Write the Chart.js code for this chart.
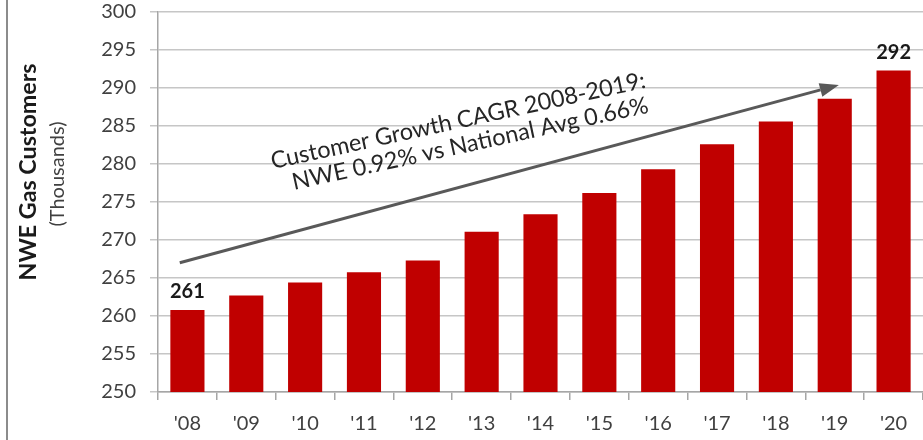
<!DOCTYPE html>
<html>
<head>
<meta charset="utf-8">
<script src="https://cdn.jsdelivr.net/npm/chart.js@4.4.1/dist/chart.umd.min.js"></script>
<style>
  html, body { margin: 0; padding: 0; background: #fff; overflow: hidden; }
  #wrap { position: relative; width: 923px; height: 440px; }
</style>
</head>
<body>
<div id="wrap"><canvas id="gasChart" width="923" height="440"></canvas></div>
<script>
// categories / values (thousands of customers)
const YEARS = ["'08", "'09", "'10", "'11", "'12", "'13", "'14", "'15", "'16", "'17", "'18", "'19", "'20"];
const CUSTOMERS = [260.8, 262.7, 264.4, 265.75, 267.3, 271.1, 273.4, 276.2, 279.3, 282.6, 285.6, 288.6, 292.3];
const LABELLED_BARS = [0, 12];

const Y_MIN = 250;
const Y_MAX = 300;
const Y_STEP = 5;

const AXIS_TITLE = 'NWE Gas Customers';
const AXIS_SUBTITLE = '(Thousands)';
const NOTE_LINES = ['Customer Growth CAGR 2008-2019:', 'NWE 0.92% vs National Avg 0.66%'];

// trend arrow, in category index / value units
const ARROW_FROM = { x: -0.13, y: 267 };
const ARROW_TO = { x: 11.07, y: 290.4 };
const NOTE_ANCHOR = { x: 4.73, y: 283.2 };

const BAR_RED = '#c00000';
const TEXT_DARK = '#262626';
const TICK_GREY = '#404040';
const GRID_GREY = '#c6c6c6';
const AXIS_GREY = '#a6a6a6';
const FONT = 'Lato, "Open Sans", sans-serif';

// font size so that text spans a given length
function fitSize(ctx, text, weight, target) {
  ctx.font = `${weight} 20px ${FONT}`;
  return 20 * target / ctx.measureText(text).width;
}

const decorPlugin = {
  id: 'decor',
  beforeDraw(chart) {
    const { ctx, height } = chart;
    ctx.save();
    ctx.strokeStyle = '#8c8c8c';
    ctx.lineWidth = 2;
    ctx.beginPath();
    ctx.moveTo(7, 0);
    ctx.lineTo(7, height);
    ctx.stroke();

    // axis title, two lines
    ctx.translate(29, 172);
    ctx.rotate(-Math.PI / 2);
    ctx.textAlign = 'center';
    ctx.textBaseline = 'middle';
    let s = fitSize(ctx, AXIS_TITLE, 'bold', 217);
    ctx.font = `bold ${s}px ${FONT}`;
    ctx.fillStyle = '#1a1a1a';
    ctx.fillText(AXIS_TITLE, 0, 0);
    ctx.restore();

    ctx.save();
    ctx.translate(58, 174);
    ctx.rotate(-Math.PI / 2);
    ctx.textAlign = 'center';
    ctx.textBaseline = 'middle';
    s = fitSize(ctx, AXIS_SUBTITLE, 'normal', 105);
    ctx.font = `normal ${s}px ${FONT}`;
    ctx.fillStyle = TICK_GREY;
    ctx.fillText(AXIS_SUBTITLE, 0, 0);
    ctx.restore();
  },
  afterDatasetsDraw(chart) {
    const { ctx, scales } = chart;
    const meta = chart.getDatasetMeta(0);

    // value labels on first and last bar
    ctx.save();
    ctx.font = `bold 20px ${FONT}`;
    ctx.fillStyle = '#1a1a1a';
    ctx.textAlign = 'center';
    ctx.textBaseline = 'alphabetic';
    LABELLED_BARS.forEach((i) => {
      const bar = meta.data[i];
      ctx.fillText(String(Math.round(CUSTOMERS[i])), bar.x, bar.y - 12);
    });
    ctx.restore();

    // trend arrow
    const x0 = scales.x.getPixelForValue(ARROW_FROM.x);
    const y0 = scales.y.getPixelForValue(ARROW_FROM.y);
    const x1 = scales.x.getPixelForValue(ARROW_TO.x);
    const y1 = scales.y.getPixelForValue(ARROW_TO.y);
    const ang = Math.atan2(y1 - y0, x1 - x0);
    const headLen = 19;
    const headHalf = 7;
    ctx.save();
    ctx.strokeStyle = '#595959';
    ctx.fillStyle = '#595959';
    ctx.lineWidth = 3;
    ctx.beginPath();
    ctx.moveTo(x0, y0);
    ctx.lineTo(x1 - headLen * Math.cos(ang), y1 - headLen * Math.sin(ang));
    ctx.stroke();
    ctx.translate(x1, y1);
    ctx.rotate(ang);
    ctx.beginPath();
    ctx.moveTo(0, 0);
    ctx.lineTo(-headLen, -headHalf);
    ctx.lineTo(-headLen, headHalf);
    ctx.closePath();
    ctx.fill();
    ctx.restore();

    // rotated note
    const nx = scales.x.getPixelForValue(NOTE_ANCHOR.x);
    const ny = scales.y.getPixelForValue(NOTE_ANCHOR.y);
    ctx.save();
    const s = fitSize(ctx, NOTE_LINES[0], 'normal', 383);
    ctx.translate(nx, ny);
    ctx.rotate(-12.3 * Math.PI / 180);
    ctx.font = `normal ${s}px ${FONT}`;
    ctx.fillStyle = TEXT_DARK;
    ctx.textAlign = 'center';
    ctx.textBaseline = 'alphabetic';
    ctx.fillText(NOTE_LINES[0], -3.5, -12.5);
    ctx.fillText(NOTE_LINES[1], 3.5, 12.5);
    ctx.restore();
  },
};

function renderGasChart() {
  const canvas = document.getElementById('gasChart');
  new Chart(canvas.getContext('2d'), {
    type: 'bar',
    data: {
      labels: YEARS,
      datasets: [{
        data: CUSTOMERS,
        backgroundColor: BAR_RED,
        borderWidth: 0,
        categoryPercentage: 1,
        barPercentage: 0.58,
      }],
    },
    options: {
      responsive: false,
      animation: false,
      events: [],
      layout: { padding: { top: 12, right: 0, bottom: 0, left: 0 } },
      plugins: { legend: { display: false }, tooltip: { enabled: false } },
      scales: {
        x: {
          offset: true,
          grid: {
            offset: true,
            drawOnChartArea: false,
            color: AXIS_GREY,
            lineWidth: 1.5,
            tickLength: 8,
          },
          border: { color: AXIS_GREY, width: 1.5 },
          ticks: {
            color: TICK_GREY,
            font: { family: FONT, size: 20 },
            padding: 12,
            maxRotation: 0,
          },
          afterFit(scale) { scale.height = 48; },
        },
        y: {
          min: Y_MIN,
          max: Y_MAX,
          grid: { color: GRID_GREY, lineWidth: 1.5, tickLength: 8 },
          border: { color: AXIS_GREY, width: 1.5 },
          ticks: {
            stepSize: Y_STEP,
            color: TICK_GREY,
            font: { family: FONT, size: 20 },
            padding: 14,
          },
          afterFit(scale) {
            scale.width = 158;
            scale.paddingTop = 0;
            scale.paddingBottom = 0;
          },
        },
      },
    },
    plugins: [decorPlugin],
  });
}

document.addEventListener('DOMContentLoaded', renderGasChart);
</script>
</body>
</html>
